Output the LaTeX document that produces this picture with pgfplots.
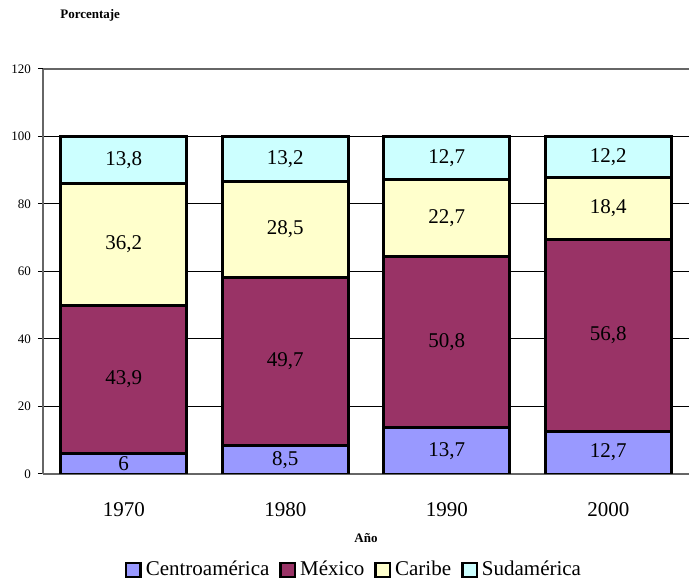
\documentclass[border=0pt]{standalone}
\usepackage{fontspec}
\setmainfont{Liberation Serif}
\usepackage{pgfplots}
\usepackage{pgfplotstable}
\pgfplotsset{compat=1.18}
\definecolor{Centro}{HTML}{9999FF}
\definecolor{Mexico}{HTML}{993366}
\definecolor{Caribe}{HTML}{FFFFCC}
\definecolor{Sud}{HTML}{CCFFFF}

\pgfplotstableread{
x  centro mexico caribe sud
0  6      43.9   36.2   13.8
1  8.5    49.7   28.5   13.2
2  13.7   50.8   22.7   12.7
3  12.7   56.8   18.4   12.2
}\datos

\begin{document}
\begin{tikzpicture}
\useasboundingbox (-21.5pt,-53.5pt) rectangle (323pt,237pt);
\begin{axis}[
    at={(0,0)}, anchor=south west,
    scale only axis, width=323pt, height=202.5pt,
    ybar stacked, bar width=63pt,
    xmin=-0.5, xmax=3.5, ymin=0, ymax=120,
    axis x line=bottom, axis y line=left,
    axis line style={-, draw=gray!80!black, line width=1pt},
    xtick={0,1,2,3},
    xticklabels={1970,1980,1990,2000},
    major x tick style={draw=none},
    extra x ticks={0.5,1.5,2.5},
    extra x tick labels={},
    extra x tick style={major tick length=3pt, tick style={black, line width=0.5pt}, grid=none},
    xticklabel style={font=\fontsize{10.5}{12}\selectfont, yshift=-8pt},
    ytick={0,20,40,60,80,100},
    extra y ticks={120},
    extra y tick style={grid style={gray!80!black, line width=1pt}},
    ymajorgrids, grid style={black, line width=0.5pt},
    tick align=outside, major tick length=2.5pt,
    ytick style={black, line width=0.5pt},
    yticklabel style={font=\fontsize{6.5}{8}\selectfont},
    /pgf/number format/assume math mode=true,
    ylabel={\textbf{Porcentaje}},
    ylabel style={rotate=-90, font=\fontsize{6.5}{8}\selectfont, at={(axis description cs:0.073,1.133)}, anchor=center},
    xlabel={\textbf{Año}},
    xlabel style={font=\fontsize{6.5}{8}\selectfont, at={(axis description cs:0.5,-0.158)}, anchor=center},
    legend style={at={(axis description cs:0.483,-0.237)}, anchor=center, draw=none,
        legend columns=4, font=\fontsize{10.5}{12}\selectfont,
        /tikz/every even column/.append style={column sep=3pt}},
    legend image code/.code={\draw[#1, draw=black, line width=1.2pt] (0pt,-3.6pt) rectangle (7.2pt,3.6pt);},
    every axis plot/.append style={draw=black, line width=1.4pt},
    visualization depends on={rawy \as \rawy},
    nodes near coords={\pgfmathprintnumber[use comma, fixed, precision=1]{\rawy}},
    every node near coord/.append style={anchor=center, font=\fontsize{10.5}{12}\selectfont, black},
]
\addplot[fill=Centro] table[x=x, y=centro] {\datos};
\addplot[fill=Mexico] table[x=x, y=mexico] {\datos};
\addplot[fill=Caribe] table[x=x, y=caribe] {\datos};
\addplot[fill=Sud] table[x=x, y=sud] {\datos};
\legend{Centroamérica, México, Caribe, Sudamérica}
\end{axis}
\end{tikzpicture}
\end{document}
